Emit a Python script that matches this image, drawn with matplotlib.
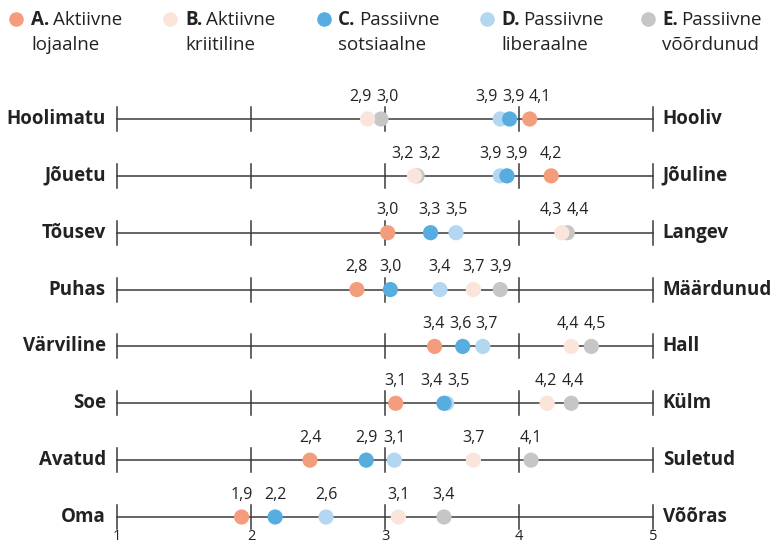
import numpy as np
import matplotlib.pyplot as plt
from matplotlib.lines import Line2D

plt.rcParams['font.family'] = ['Open Sans', 'DejaVu Sans']

# andmed
left_words = ["Hoolimatu", "Jõuetu", "Tõusev", "Puhas", "Värviline", "Soe", "Avatud", "Oma"]
right_words = ["Hooliv", "Jõuline", "Langev", "Määrdunud", "Hall", "Külm", "Suletud", "Võõras"]
group_keys = ["A.", "B.", "C.", "D.", "E."]
group_line1 = ["Aktiivne", "Aktiivne", "Passiivne", "Passiivne", "Passiivne"]
group_line2 = ["lojaalne", "kriitiline", "sotsiaalne", "liberaalne", "võõrdunud"]
colors = ["#F49D7C", "#FBE4DA", "#58ADE0", "#B3D6F1", "#C6C6C6"]

vals_A = [4.08, 4.24, 3.02, 2.79, 3.37, 3.08, 2.44, 1.93]
vals_B = [2.87, 3.22, 4.32, 3.66, 4.39, 4.21, 3.66, 3.10]
vals_C = [3.93, 3.91, 3.34, 3.04, 3.58, 3.44, 2.86, 2.18]
vals_D = [3.86, 3.86, 3.53, 3.41, 3.73, 3.46, 3.07, 2.56]
vals_E = [2.97, 3.24, 4.36, 3.86, 4.54, 4.39, 4.09, 3.44]
values = [vals_A, vals_B, vals_C, vals_D, vals_E]

scale_ticks = [1, 2, 3, 4, 5]

# joonistamise järjekord (mis katab mida)
draw_order = [0, 4, 1, 3, 2]


def spread(xs, sep):
    # nihutab sildid laiali, et need ei kattuks
    order = np.argsort(xs)
    groups = [[i] for i in order]

    def pos(g):
        c = np.mean([xs[i] for i in g])
        return [c + (k - (len(g) - 1) / 2) * sep for k in range(len(g))]

    merged = True
    while merged:
        merged = False
        for j in range(len(groups) - 1):
            if pos(groups[j + 1])[0] - pos(groups[j])[-1] < sep - 1e-9:
                groups[j] = groups[j] + groups[j + 1]
                del groups[j + 1]
                merged = True
                break
    out = {}
    for g in groups:
        for i, p in zip(g, pos(g)):
            out[i] = p
    return [out[i] for i in range(len(xs))]


W, H = 773, 545
fig = plt.figure(figsize=(W / 100, H / 100), dpi=100)
ax = fig.add_axes([117 / W, 1 - 517 / H, 536 / W, (517 - 119) / H])
ax.set_xlim(1, 5)
ax.set_ylim(len(left_words) - 1, 0)
ax.axis('off')

line_col = "#3a3a3a"
txt_col = "#222222"
for r in range(len(left_words)):
    ax.plot([1, 5], [r, r], color=line_col, lw=1.1, zorder=1, clip_on=False)
    for t in scale_ticks:
        ax.plot([t, t], [r - 0.21, r + 0.21], color=line_col, lw=1.1, zorder=1, clip_on=False)

    ax.annotate(left_words[r], xy=(1, r), xytext=(-8, 0), textcoords='offset points',
                ha='right', va='center', fontsize=13.5, fontweight='bold', color=txt_col)
    ax.annotate(right_words[r], xy=(5, r), xytext=(7, 0), textcoords='offset points',
                ha='left', va='center', fontsize=13.5, fontweight='bold', color=txt_col)

    xs = [values[g][r] for g in range(5)]
    for z, g in enumerate(draw_order):
        ax.scatter(xs[g], r, s=120, color=colors[g], edgecolors='none', zorder=3 + z, clip_on=False)

    lab_x = spread(xs, 0.2)
    for g in range(5):
        ax.annotate(f"{xs[g]:.1f}".replace(".", ","), xy=(lab_x[g], r), xytext=(0, 16),
                    textcoords='offset points', ha='center', va='center',
                    fontsize=11.5, color=txt_col)

last = len(left_words) - 1
for t in scale_ticks:
    ax.annotate(str(t), xy=(t, last), xytext=(0, -14), textcoords='offset points',
                ha='center', va='center', fontsize=10.5, color=txt_col)

# legend
leg_marker_x = [16, 170, 324, 487, 648]
leg_text_x = [31, 185, 338, 501, 662]
for g in range(5):
    fig.add_artist(Line2D([leg_marker_x[g] / W], [1 - 18.5 / H], marker='o', ms=10.5,
                          color=colors[g], mec='none', transform=fig.transFigure))
    t1 = fig.text(leg_text_x[g] / W, 1 - 20 / H, group_keys[g], fontsize=13.5,
                  fontweight='bold', va='center', ha='left', color=txt_col)
    ax.annotate(group_line1[g], xy=(1, 0.5), xycoords=t1, xytext=(2.5, 0),
                textcoords='offset points', fontsize=13.5, va='center', ha='left',
                color=txt_col)
    fig.text(leg_text_x[g] / W, 1 - 45 / H, group_line2[g], fontsize=13.5,
             va='center', ha='left', color=txt_col)

plt.savefig("out.png", dpi=100)
